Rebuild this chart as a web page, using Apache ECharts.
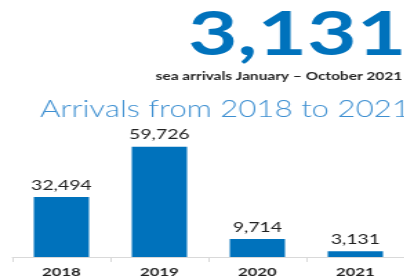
<!DOCTYPE html>
<html>
<head>
<meta charset="utf-8">
<script src="https://cdn.jsdelivr.net/npm/echarts@6/dist/echarts.min.js"></script>
<style>
  html, body { margin: 0; padding: 0; background: #fff; overflow: hidden; }
  /* the reference is a horizontally stretched graphic, so stretch the canvas too */
  #chart { width: 293px; height: 280px; transform: scaleX(1.38); transform-origin: 0 0; }
</style>
</head>
<body>
<div id="chart"></div>
<script>
var years = ["2018", "2019", "2020", "2021"];
var arrivals = [32494, 59726, 9714, 3131];
var headline = "3,131";
var headlineNote = "sea arrivals January \u2013 October 2021";
var chartTitle = "Arrivals from 2018 to 2021";

var myChart = echarts.init(document.getElementById("chart"));

myChart.setOption({
  animation: false,
  textStyle: { fontFamily: "Lato" },
  title: [
    {
      text: headline,
      right: -1.5,
      top: 4,
      padding: 0,
      textStyle: { color: "#0072bc", fontSize: 62, fontWeight: "bold", fontFamily: "Lato" }
    },
    {
      text: headlineNote,
      right: 1.5,
      top: 71,
      padding: 0,
      textStyle: { color: "#222", fontSize: 11.2, fontWeight: "bold", fontFamily: "Lato" }
    },
    {
      text: chartTitle,
      right: -4,
      top: 98,
      padding: 0,
      textStyle: { color: "#3d8fd1", fontSize: 22.6, fontWeight: 300, fontFamily: "Lato" }
    }
  ],
  grid: { left: 9, width: 286, top: 137, bottom: 23 },
  xAxis: {
    type: "category",
    data: years,
    axisLine: { lineStyle: { color: "#d9d9d9" } },
    axisTick: { show: true, length: 5, lineStyle: { color: "#d9d9d9" } },
    axisLabel: { color: "#222", fontSize: 12, fontWeight: "bold", margin: 9, fontFamily: "Lato" }
  },
  yAxis: {
    type: "value",
    min: 0,
    max: 65000,
    show: false,
    splitLine: { show: false }
  },
  series: [
    {
      type: "bar",
      data: arrivals,
      barWidth: 40,
      itemStyle: { color: "#0072bc" },
      label: {
        show: true,
        position: "top",
        distance: 5,
        color: "#222",
        fontSize: 14,
        fontFamily: "Lato",
        formatter: function (p) { return p.value.toLocaleString("en-US"); }
      }
    }
  ]
});
</script>
</body>
</html>
